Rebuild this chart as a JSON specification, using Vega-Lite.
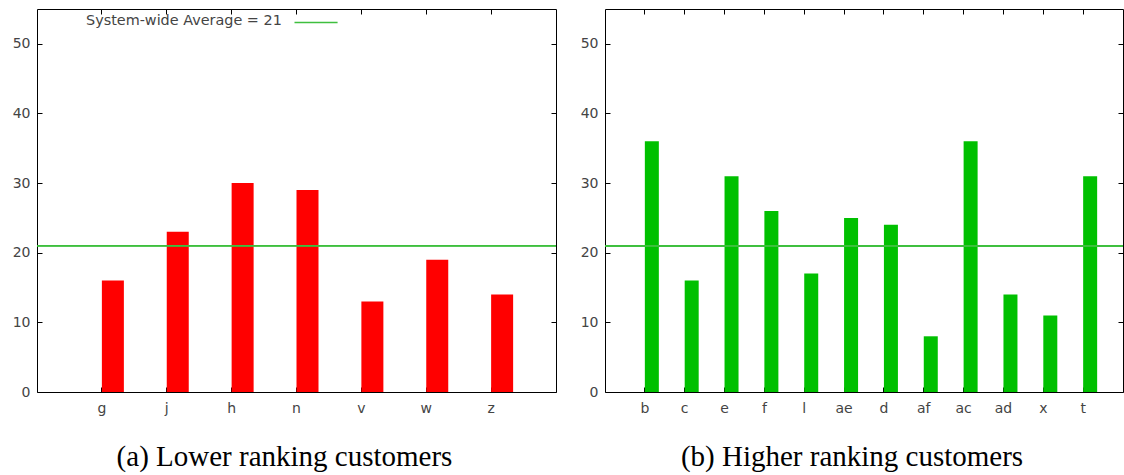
{
  "$schema": "https://vega.github.io/schema/vega-lite/v6.json",
  "padding": {"left": 11, "top": 8, "right": 0, "bottom": 0},
  "background": "white",
  "spacing": 22,
  "config": {
    "view": {"stroke": "#000000", "strokeWidth": 1},
    "axis": {"grid": false, "domain": false, "labelFont": "DejaVu Sans", "labelFontSize": 14, "labelColor": "#444444", "tickColor": "#000000", "tickSize": -5, "title": null},
    "legend": {"titleFont": "DejaVu Sans", "titleFontSize": 14.4, "titleFontWeight": "normal", "titleColor": "#444444", "titleLimit": 0, "titleAnchor": "middle", "titleBaseline": "middle"},
    "title": {"font": "Liberation Serif", "fontSize": 29, "fontWeight": "normal", "color": "#000000", "orient": "bottom", "anchor": "middle", "offset": 28, "dx": -12}
  },
  "hconcat": [
    {
      "title": "(a) Lower ranking customers",
      "width": 519,
      "height": 383,
      "data": {"values": [
        {"customer": "g", "value": 16},
        {"customer": "j", "value": 23},
        {"customer": "h", "value": 30},
        {"customer": "n", "value": 29},
        {"customer": "v", "value": 13},
        {"customer": "w", "value": 19},
        {"customer": "z", "value": 14}
      ]},
      "layer": [
        {
          "mark": {"type": "bar", "width": 22, "xOffset": 11, "color": "#ff0000"},
          "encoding": {
            "x": {"field": "customer", "type": "nominal", "sort": null, "scale": {"paddingInner": 0, "paddingOuter": 0.5}, "axis": {"orient": "bottom", "labelAngle": 0, "labelPadding": 14}},
            "y": {"field": "value", "type": "quantitative", "scale": {"domain": [0, 55], "nice": false}, "axis": {"orient": "left", "values": [0, 10, 20, 30, 40, 50], "labelPadding": 12}}
          }
        },
        {
          "mark": {"type": "bar", "opacity": 0},
          "encoding": {
            "x": {"field": "customer", "type": "nominal", "sort": null, "axis": {"orient": "top", "labels": false}},
            "y": {"field": "value", "type": "quantitative", "axis": {"orient": "right", "labels": false, "values": [0, 10, 20, 30, 40, 50]}}
          }
        },
        {
          "mark": {"type": "rule", "strokeWidth": 1},
          "encoding": {
            "y": {"datum": 21, "type": "quantitative", "axis": null},
            "stroke": {"datum": "avg", "type": "nominal", "scale": {"range": ["#3fbf3f"]}, "legend": {"title": "System-wide Average = 21", "titleOrient": "left", "titlePadding": 6, "labelExpr": "''", "labelFontSize": 1, "symbolType": "M0,0H8", "symbolSize": 116, "symbolStrokeWidth": 1.5, "symbolStrokeColor": "#55d055", "orient": "none", "legendX": 49, "legendY": 7}}
          }
        }
      ],
      "resolve": {"axis": {"x": "independent", "y": "independent"}}
    },
    {
      "title": "(b) Higher ranking customers",
      "width": 518,
      "height": 383,
      "data": {"values": [
        {"customer": "b", "value": 36},
        {"customer": "c", "value": 16},
        {"customer": "e", "value": 31},
        {"customer": "f", "value": 26},
        {"customer": "l", "value": 17},
        {"customer": "ae", "value": 25},
        {"customer": "d", "value": 24},
        {"customer": "af", "value": 8},
        {"customer": "ac", "value": 36},
        {"customer": "ad", "value": 14},
        {"customer": "x", "value": 11},
        {"customer": "t", "value": 31}
      ]},
      "layer": [
        {
          "mark": {"type": "bar", "width": 14, "xOffset": 7, "color": "#00c000"},
          "encoding": {
            "x": {"field": "customer", "type": "nominal", "sort": null, "scale": {"paddingInner": 0, "paddingOuter": 0.5}, "axis": {"orient": "bottom", "labelAngle": 0, "labelPadding": 14}},
            "y": {"field": "value", "type": "quantitative", "scale": {"domain": [0, 55], "nice": false}, "axis": {"orient": "left", "values": [0, 10, 20, 30, 40, 50], "labelPadding": 12}}
          }
        },
        {
          "mark": {"type": "bar", "opacity": 0},
          "encoding": {
            "x": {"field": "customer", "type": "nominal", "sort": null, "axis": {"orient": "top", "labels": false}},
            "y": {"field": "value", "type": "quantitative", "axis": {"orient": "right", "labels": false, "values": [0, 10, 20, 30, 40, 50]}}
          }
        },
        {
          "mark": {"type": "rule", "strokeWidth": 1},
          "encoding": {
            "y": {"datum": 21, "type": "quantitative", "axis": null},
            "stroke": {"datum": "avg", "type": "nominal", "scale": {"range": ["#3fbf3f"]}, "legend": {"title": "System-wide Average = 21", "titleOrient": "left", "titlePadding": 6, "labelExpr": "''", "labelFontSize": 1, "symbolType": "M0,0H8", "symbolSize": 116, "symbolStrokeWidth": 1.5, "symbolStrokeColor": "#55d055", "orient": "none", "legendX": 50, "legendY": 7}}
          }
        }
      ],
      "resolve": {"axis": {"x": "independent", "y": "independent"}}
    }
  ]
}
